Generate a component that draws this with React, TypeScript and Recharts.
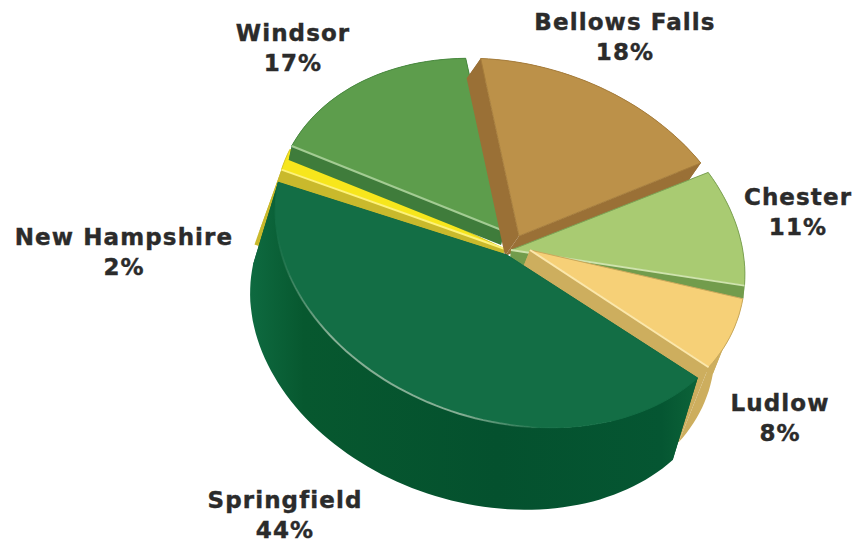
import { PieChart, Pie } from 'recharts'

const names = ['New Hampshire', 'Windsor', 'Bellows Falls', 'Chester', 'Ludlow', 'Springfield']
const shares = [2, 17, 18, 11, 8, 44]

const chartData = names.map((name, i) => ({ name, value: shares[i] }))

// look of each slice: apex of the top face, extrusion of its walls, colours,
// trim = degrees taken off the face at its start and end, shine = which radial edge catches the light
const sliceStyles: Record<string, any> = {
  'New Hampshire': { apex: [505, 249], drop: [-27, 75], trim: [0, 0], face: '#f7e61c', wall: '#c9b92c', edge: '#d8c92c', shine: '#fdf27a', shineAt: 'start' },
  Windsor: { apex: [504, 231], drop: [-3, 14], trim: [0, -2.5], face: '#5d9d4c', wall: '#3f7c3b', edge: '#4a8a40', shine: '#a3cc93', shineAt: 'start' },
  'Bellows Falls': { apex: [519, 236], drop: [-14, 20], trim: [0, -2], face: '#bc9149', wall: '#9a7036', edge: '#a67d3c' },
  Chester: { apex: [511, 250], drop: [-1, 13], trim: [0, -3], face: '#a9cb72', wall: '#729c4c', edge: '#7ea355', shine: '#cfe3ad', shineAt: 'end' },
  Ludlow: { apex: [530, 250], drop: [-30, 75], trim: [0, -3.5], face: '#f6d077', wall: '#cdae5e', edge: '#c9a95c', shine: '#fbe7ab', shineAt: 'end' },
  Springfield: { apex: [507, 255], drop: [-25, 82], trim: [0, -3], face: '#136e45', wall: 'url(#springWall)', edge: '#136e45' },
}

const labelSpots: Record<string, number[]> = {
  'New Hampshire': [124, 245],
  Windsor: [293, 41],
  'Bellows Falls': [625, 30],
  Chester: [798, 205],
  Ludlow: [780, 411],
  Springfield: [285, 508],
}

const SQUASH = 0.742
const TILT = (17.8 * Math.PI) / 180

function rimPoint(cx: number, cy: number, r: number, angle: number) {
  const t = ((90 - angle) * Math.PI) / 180
  const x = r * Math.sin(t)
  const y = -r * SQUASH * Math.cos(t)
  return [cx + x * Math.cos(TILT) - y * Math.sin(TILT), cy + x * Math.sin(TILT) + y * Math.cos(TILT)]
}

function rimPoints(cx: number, cy: number, r: number, from: number, to: number) {
  const steps = Math.max(2, Math.ceil(Math.abs(to - from) / 2))
  const pts: number[][] = []
  for (let i = 0; i <= steps; i++) pts.push(rimPoint(cx, cy, r, from + ((to - from) * i) / steps))
  return pts
}

const toPath = (pts: number[][]) => 'M' + pts.map((p) => `${p[0].toFixed(1)},${p[1].toFixed(1)}`).join('L') + 'Z'
const shift = (pts: number[][], d: number[]) => pts.map((p) => [p[0] + d[0], p[1] + d[1]])

function Slice(props: any) {
  const { cx, cy, outerRadius, startAngle, endAngle, name } = props
  const s = sliceStyles[name]
  // angles run clockwise, so they fall from start to end
  const from = startAngle - s.trim[0]
  const to = endAngle - s.trim[1]
  const rim = rimPoints(cx, cy, outerRadius, from, to)
  const first = rim[0]
  const last = rim[rim.length - 1]
  const rimWall = [...rim, ...shift(rim, s.drop).reverse()]
  const startWall = [s.apex, first, ...shift([first, s.apex], s.drop)]
  const endWall = [s.apex, last, ...shift([last, s.apex], s.drop)]
  const span = to - from
  const shineEnd = s.shineAt === 'end' ? last : first
  return (
    <g>
      <defs>
        <linearGradient id="springWall" x1="0" y1="0" x2="1" y2="0">
          <stop offset="0" stopColor="#0e6a40" />
          <stop offset="0.12" stopColor="#07582f" />
          <stop offset="0.55" stopColor="#04512e" />
          <stop offset="0.92" stopColor="#055632" />
          <stop offset="1" stopColor="#0c6339" />
        </linearGradient>
        <linearGradient id="springShine" x1="0" y1="0" x2="1" y2="0">
          <stop offset="0" stopColor="#a9c4ae" stopOpacity="0" />
          <stop offset="0.2" stopColor="#a9c4ae" stopOpacity="0.75" />
          <stop offset="0.7" stopColor="#a9c4ae" stopOpacity="0.75" />
          <stop offset="1" stopColor="#a9c4ae" stopOpacity="0" />
        </linearGradient>
      </defs>
      <path d={toPath(startWall)} fill={name === 'Springfield' ? '#04512e' : s.wall} />
      <path d={toPath(endWall)} fill={name === 'Springfield' ? '#04512e' : s.wall} />
      <path d={toPath(rimWall)} fill={s.wall} />
      <path d={toPath([s.apex, ...rim])} fill={s.face} stroke={s.edge} strokeWidth={1} />
      {s.shine && <line x1={s.apex[0]} y1={s.apex[1]} x2={shineEnd[0]} y2={shineEnd[1]} stroke={s.shine} strokeWidth={2} />}
      {name === 'Springfield' && (
        <polyline
          points={rimPoints(cx, cy, outerRadius, from + span * 0.3, from + span * 0.9)
            .map((p) => p.join(','))
            .join(' ')}
          fill="none"
          stroke="url(#springShine)"
          strokeWidth={2}
        />
      )}
    </g>
  )
}

function SliceLabel(props: any) {
  const { name, value } = props
  const spot = labelSpots[name]
  return (
    <text
      x={spot[0]}
      y={spot[1]}
      textAnchor="middle"
      fontFamily="'DejaVu Sans', sans-serif"
      fontWeight="bold"
      fontSize={23}
      letterSpacing={1.1}
      stroke="#2b2b2b"
      strokeWidth={0.4}
      fill="#2b2b2b"
    >
      <tspan x={spot[0]} dy={0}>{name}</tspan>
      <tspan x={spot[0]} dy={30}>{`${value}%`}</tspan>
    </text>
  )
}

export default function App() {
  return (
    <div style={{ position: 'absolute', left: 0, top: 0, width: 858, height: 542, background: '#fff' }}>
      <PieChart width={858} height={542} margin={{ top: 0, right: 0, bottom: 0, left: 0 }}>
        <Pie
          data={chartData}
          dataKey="value"
          nameKey="name"
          cx={510}
          cy={243}
          innerRadius={0}
          outerRadius={240}
          startAngle={180}
          endAngle={-180}
          paddingAngle={1.2}
          stroke="none"
          shape={Slice}
          label={SliceLabel}
          labelLine={false}
          isAnimationActive={false}
        />
      </PieChart>
    </div>
  )
}
